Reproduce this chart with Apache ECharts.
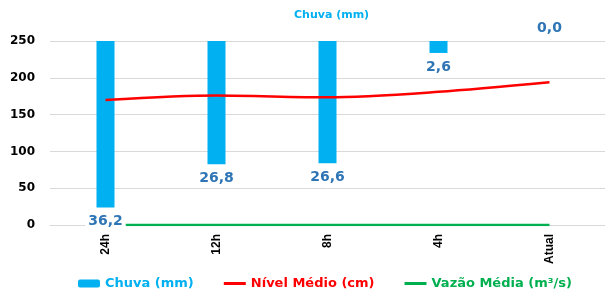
<!DOCTYPE html>
<html>
<head>
<meta charset="utf-8">
<script src="https://cdn.jsdelivr.net/npm/echarts@6/dist/echarts.min.js"></script>
<style>
  html, body { margin: 0; padding: 0; background: #fff; }
  #chart { width: 605px; height: 289px; }
</style>
</head>
<body>
<div id="chart"></div>
<script>
// dados
var categorias = ['24h', '12h', '8h', '4h', 'Atual'];
var chuva = [36.2, 26.8, 26.6, 2.6, 0.0];
var nivelMedio = [170, 176, 173.5, 181, 194];
var vazaoMedia = [0, 0, 0, 0, 0];

var azul = '#00B0F0';
var vermelho = '#FF0000';
var verde = '#00B050';
var fonte = 'DejaVu Sans';
var iconeLinha = 'path://M0,0H22V3H0Z';

var chart = echarts.init(document.getElementById('chart'));

var chuvaData = chuva.map(function (v) {
  if (v === 0) {
    return { value: v, label: { position: 'top', distance: 5 } };
  }
  return v;
});

chart.setOption({
  animation: false,
  textStyle: { fontFamily: fonte },
  title: {
    text: 'Chuva (mm)',
    left: 289,
    top: 5,
    textStyle: { color: azul, fontSize: 11, fontWeight: 'bold', fontFamily: fonte }
  },
  grid: { left: 50, right: -7, top: 41, bottom: 64 },
  legend: {
    left: 73,
    top: 272,
    itemGap: 30,
    itemTextGap: 3,
    itemWidth: 22,
    itemHeight: 8,
    data: [
      { name: 'Chuva (mm)', textStyle: { color: azul } },
      { name: 'Nível Médio (cm)', icon: iconeLinha, textStyle: { color: vermelho } },
      { name: 'Vazão Média (m³/s)', icon: iconeLinha, textStyle: { color: verde } }
    ],
    textStyle: { fontSize: 13, fontWeight: 'bold', fontFamily: fonte }
  },
  xAxis: {
    type: 'category',
    data: categorias,
    boundaryGap: true,
    axisLine: { lineStyle: { color: '#d9d9d9' } },
    axisTick: { length: 4, lineStyle: { color: '#d9d9d9' } },
    axisLabel: {
      rotate: 90,
      margin: 9,
      color: '#000',
      fontSize: 12,
      fontWeight: 'bold',
      fontFamily: 'Liberation Sans Narrow, Liberation Sans'
    }
  },
  yAxis: [
    {
      type: 'value',
      min: 0,
      max: 250,
      interval: 50,
      axisLine: { show: false },
      axisTick: { show: false },
      splitLine: { lineStyle: { color: '#d9d9d9' } },
      axisLabel: { color: '#000', fontSize: 12, fontWeight: 'bold', margin: 15 }
    },
    {
      type: 'value',
      inverse: true,
      min: 0,
      max: 40,
      show: false,
      splitLine: { show: false }
    }
  ],
  series: [
    {
      name: 'Vazão Média (m³/s)',
      type: 'line',
      data: vazaoMedia,
      symbol: 'none',
      z: 1,
      lineStyle: { color: verde, width: 2.5 },
      itemStyle: { color: verde }
    },
    {
      name: 'Chuva (mm)',
      type: 'bar',
      yAxisIndex: 1,
      data: chuvaData,
      barWidth: 18,
      z: 2,
      itemStyle: { color: azul },
      label: {
        show: true,
        position: 'bottom',
        distance: 6,
        color: '#2E75B6',
        fontSize: 14,
        fontWeight: 'bold',
        backgroundColor: '#fff',
        padding: [1, 3],
        formatter: function (p) {
          return p.value.toFixed(1).replace('.', ',');
        }
      }
    },
    {
      name: 'Nível Médio (cm)',
      type: 'line',
      data: nivelMedio,
      symbol: 'none',
      smooth: 0.3,
      z: 3,
      lineStyle: { color: vermelho, width: 2.5 },
      itemStyle: { color: vermelho }
    }
  ]
});
</script>
</body>
</html>
